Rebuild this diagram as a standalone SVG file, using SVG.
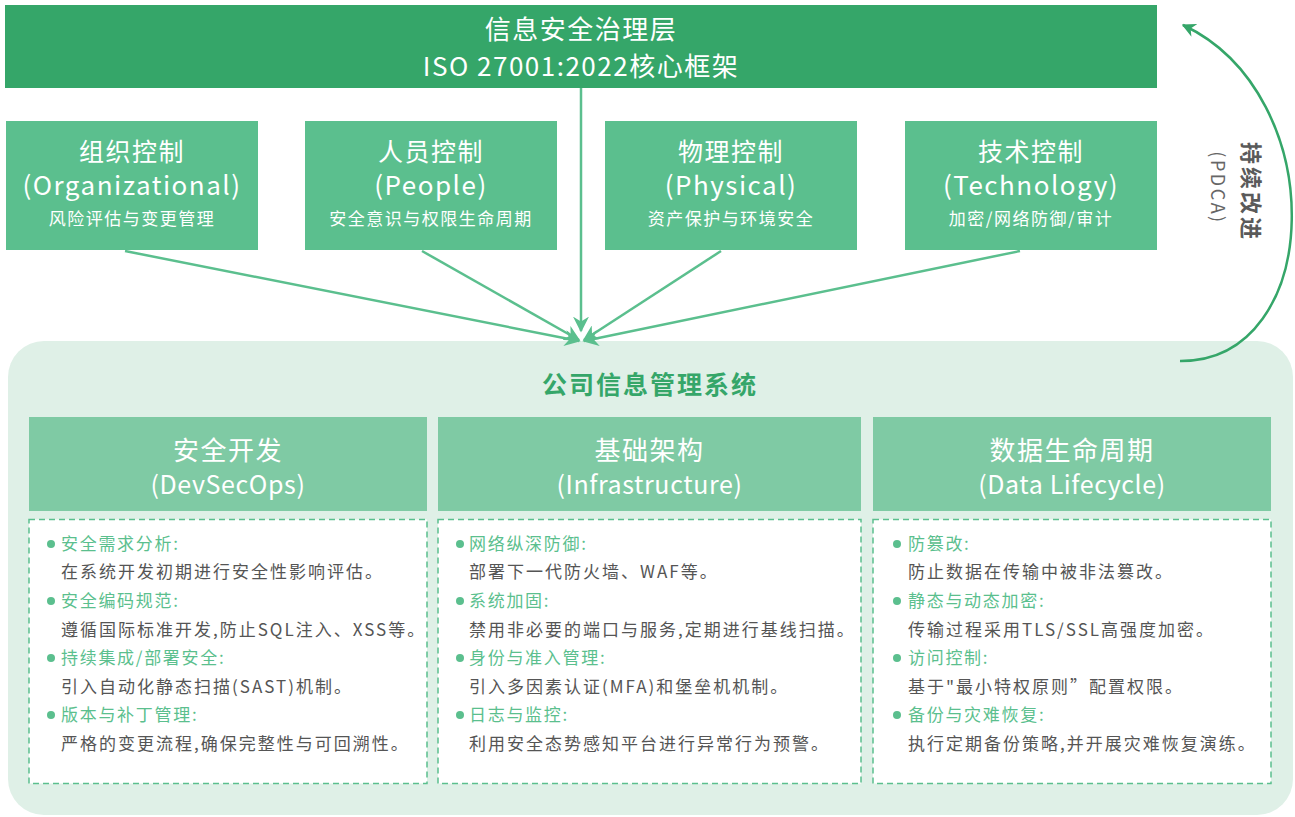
<svg xmlns="http://www.w3.org/2000/svg" width="1295" height="817" viewBox="0 0 1295 817">
<style>
text{font-family:"Noto Sans CJK SC","Noto Sans",sans-serif;}
.hdr{fill:#35a669;}
.ctl{fill:#5bbf8e;}
.colh{fill:#7fcaa4;}
.panel{fill:#dff0e7;}
.dbox{fill:#ffffff;stroke:#5bbf8e;stroke-width:1.5;stroke-dasharray:6 4;}
.wt{fill:#ffffff;text-anchor:middle;}
.t26{font-size:26px;letter-spacing:1.5px;}
.t25{font-size:25px;letter-spacing:1.5px;}
.t25n{font-size:25px;letter-spacing:0.6px;}
.t17{font-size:17px;letter-spacing:1.5px;}
.hd{fill:#5bbf8e;font-size:17px;letter-spacing:1.7px;}
.bd{fill:#555555;font-size:17px;letter-spacing:2px;}
.dot{fill:#5bbf8e;}
.conn{stroke:#5bbf8e;stroke-width:2.5;fill:none;marker-end:url(#ah);}
.pdca{stroke:#35a669;stroke-width:2.5;fill:none;marker-end:url(#ah2);}
</style>
<defs>
<marker id="ah" markerUnits="userSpaceOnUse" markerWidth="16" markerHeight="16" viewBox="0 0 10 10" refX="9" refY="5" orient="auto">
<path d="M0,0 L10,5 L0,10 L3,5 z" fill="#5bbf8e"/>
</marker>
<marker id="ah2" markerUnits="userSpaceOnUse" markerWidth="14" markerHeight="14" viewBox="0 0 10 10" refX="9" refY="5" orient="auto">
<path d="M0,0 L10,5 L0,10 L3,5 z" fill="#35a669"/>
</marker>
</defs>
<rect width="1295" height="817" fill="#ffffff"/>

<g id="panel">
<rect class="panel" x="8" y="341" width="1285" height="474" rx="36"/>
<text x="650" y="394" text-anchor="middle" font-size="25" font-weight="bold" letter-spacing="2" fill="#35a669">公司信息管理系统</text>
</g>

<g id="header">
<rect class="hdr" x="5" y="5" width="1152" height="83"/>
<text class="wt t26" x="581" y="39">信息安全治理层</text>
<text class="wt t26" x="581" y="76">ISO 27001:2022核心框架</text>
</g>

<g id="ctl-org">
<rect class="ctl" x="6" y="121" width="252" height="129"/>
<text class="wt t25" x="132" y="161">组织控制</text>
<text class="wt t26" x="132" y="195">(Organizational)</text>
<text class="wt t17" x="132" y="225">风险评估与变更管理</text>
</g>
<g id="ctl-people">
<rect class="ctl" x="305" y="121" width="252" height="129"/>
<text class="wt t25" x="431" y="161">人员控制</text>
<text class="wt t26" x="431" y="195">(People)</text>
<text class="wt t17" x="431" y="225">安全意识与权限生命周期</text>
</g>
<g id="ctl-phys">
<rect class="ctl" x="605" y="121" width="252" height="129"/>
<text class="wt t25" x="731" y="161">物理控制</text>
<text class="wt t26" x="731" y="195">(Physical)</text>
<text class="wt t17" x="731" y="225">资产保护与环境安全</text>
</g>
<g id="ctl-tech">
<rect class="ctl" x="905" y="121" width="252" height="129"/>
<text class="wt t25" x="1031" y="161">技术控制</text>
<text class="wt t26" x="1031" y="195">(Technology)</text>
<text class="wt t17" x="1031" y="225">加密/网络防御/审计</text>
</g>

<g id="connectors">
<line class="conn" x1="581" y1="88" x2="581" y2="331"/>
<line class="conn" x1="125" y1="251" x2="579" y2="341"/>
<line class="conn" x1="422" y1="251" x2="579" y2="340"/>
<line class="conn" x1="721" y1="251" x2="584" y2="340"/>
<line class="conn" x1="1020" y1="251" x2="584" y2="341"/>
<path class="pdca" d="M1180 361 C1325 362 1332 95 1183 25"/>
</g>

<g id="pdca-label">
<text transform="translate(1253,192) rotate(90)" text-anchor="middle" dominant-baseline="central" font-size="22" font-weight="bold" letter-spacing="3" fill="#5a5a5a">持续改进</text>
<text transform="translate(1219,188) rotate(90)" text-anchor="middle" dominant-baseline="central" font-size="18" letter-spacing="2.5" fill="#666666">(PDCA)</text>
</g>

<g id="col-devsecops">
<rect class="colh" x="29" y="417" width="398" height="94"/>
<text class="wt t26" x="228" y="460">安全开发</text>
<text class="wt t25n" x="228" y="494">(DevSecOps)</text>
<rect class="dbox" x="29" y="519.5" width="398" height="264"/>
<circle class="dot" cx="51" cy="544" r="4"/>
<text class="hd" x="61" y="550">安全需求分析:</text>
<text class="bd" x="61" y="578">在系统开发初期进行安全性影响评估。</text>
<circle class="dot" cx="51" cy="601" r="4"/>
<text class="hd" x="61" y="607">安全编码规范:</text>
<text class="bd" x="61" y="636">遵循国际标准开发,防止SQL注入、XSS等。</text>
<circle class="dot" cx="51" cy="658" r="4"/>
<text class="hd" x="61" y="664">持续集成/部署安全:</text>
<text class="bd" x="61" y="693">引入自动化静态扫描(SAST)机制。</text>
<circle class="dot" cx="51" cy="715" r="4"/>
<text class="hd" x="61" y="721">版本与补丁管理:</text>
<text class="bd" x="61" y="750">严格的变更流程,确保完整性与可回溯性。</text>
</g>

<g id="col-infra">
<rect class="colh" x="438" y="417" width="423" height="94"/>
<text class="wt t26" x="649.5" y="460">基础架构</text>
<text class="wt t25n" x="649.5" y="494">(Infrastructure)</text>
<rect class="dbox" x="438" y="519.5" width="423" height="264"/>
<circle class="dot" cx="460" cy="544" r="4"/>
<text class="hd" x="469" y="550">网络纵深防御:</text>
<text class="bd" x="469" y="578">部署下一代防火墙、WAF等。</text>
<circle class="dot" cx="460" cy="601" r="4"/>
<text class="hd" x="469" y="607">系统加固:</text>
<text class="bd" x="469" y="636">禁用非必要的端口与服务,定期进行基线扫描。</text>
<circle class="dot" cx="460" cy="658" r="4"/>
<text class="hd" x="469" y="664">身份与准入管理:</text>
<text class="bd" x="469" y="693">引入多因素认证(MFA)和堡垒机机制。</text>
<circle class="dot" cx="460" cy="715" r="4"/>
<text class="hd" x="469" y="721">日志与监控:</text>
<text class="bd" x="469" y="750">利用安全态势感知平台进行异常行为预警。</text>
</g>

<g id="col-data">
<rect class="colh" x="873" y="417" width="398" height="94"/>
<text class="wt t26" x="1072" y="460">数据生命周期</text>
<text class="wt t25n" x="1072" y="494">(Data Lifecycle)</text>
<rect class="dbox" x="873" y="519.5" width="398" height="264"/>
<circle class="dot" cx="897" cy="544" r="4"/>
<text class="hd" x="908" y="550">防篡改:</text>
<text class="bd" x="908" y="578">防止数据在传输中被非法篡改。</text>
<circle class="dot" cx="897" cy="601" r="4"/>
<text class="hd" x="908" y="607">静态与动态加密:</text>
<text class="bd" x="908" y="636">传输过程采用TLS/SSL高强度加密。</text>
<circle class="dot" cx="897" cy="658" r="4"/>
<text class="hd" x="908" y="664">访问控制:</text>
<text class="bd" x="908" y="693">基于"最小特权原则”配置权限。</text>
<circle class="dot" cx="897" cy="715" r="4"/>
<text class="hd" x="908" y="721">备份与灾难恢复:</text>
<text class="bd" x="908" y="750">执行定期备份策略,并开展灾难恢复演练。</text>
</g>
</svg>
